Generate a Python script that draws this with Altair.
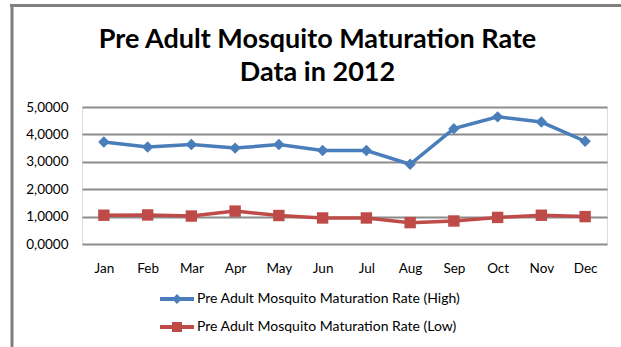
import altair as alt
import pandas as pd

months = ["Jan", "Feb", "Mar", "Apr", "May", "Jun", "Jul", "Aug", "Sep", "Oct", "Nov", "Dec"]
high = [3.72, 3.54, 3.63, 3.50, 3.63, 3.41, 3.41, 2.91, 4.21, 4.64, 4.45, 3.75]
low = [1.05, 1.06, 1.02, 1.20, 1.04, 0.95, 0.95, 0.78, 0.84, 0.97, 1.05, 1.00]
series_names = ["Pre Adult Mosquito Maturation Rate (High)", "Pre Adult Mosquito Maturation Rate (Low)"]
colors = ["#4A7EBB", "#BE4B48"]
title_lines = ["Pre Adult Mosquito Maturation Rate", "Data in 2012"]

rows = []
for m, h, l in zip(months, high, low):
    rows.append({"month": m, "value": h, "series": series_names[0], "legend": series_names[0]})
    rows.append({"month": m, "value": l, "series": series_names[1], "legend": series_names[1]})
df = pd.DataFrame(rows)

FONT = "Lato"
W, H = 525, 137
PL, PT = 82, 107

x = alt.X("month:N", sort=months, scale=alt.Scale(type="point", padding=0.5),
          axis=alt.Axis(title=None, labelAngle=0, domain=False, ticks=False, grid=False,
                        labelFont=FONT, labelFontSize=13.5, labelColor="#000000", labelPadding=17))
y = alt.Y("value:Q", scale=alt.Scale(domain=[0, 5], nice=False),
          axis=alt.Axis(title=None, values=[0, 1, 2, 3, 4, 5], domain=False, ticks=False,
                        gridColor="#8C8C8C", gridWidth=2, gridOpacity=1,
                        labelExpr="replace(format(datum.value, '.4f'), '.', ',')",
                        labelFont=FONT, labelFontSize=13.5, labelColor="#000000", labelPadding=14))
color_scale = alt.Scale(domain=series_names, range=colors)

base = alt.Chart(df)
lines = base.mark_line(strokeWidth=3.5).encode(
    x=x, y=y, color=alt.Color("series:N", scale=color_scale, legend=None), detail="series:N")
points = base.mark_point(filled=True, opacity=1, strokeWidth=0).encode(
    x=x, y=y,
    color=alt.Color("series:N", scale=color_scale, legend=None),
    shape=alt.Shape("series:N", scale=alt.Scale(domain=series_names, range=["diamond", "square"]), legend=None),
    size=alt.value(130))

hw, lt, mk = 1.214, 0.143, 0.357
jx = mk * (1 - lt / mk)
diamond_path = (f"M-{hw},-{lt}L-{jx:.3f},-{lt}L0,-{mk}L{jx:.3f},-{lt}L{hw},-{lt}L{hw},{lt}"
                f"L{jx:.3f},{lt}L0,{mk}L-{jx:.3f},{lt}L-{hw},{lt}Z")
square_path = (f"M-{hw},-{lt}L-{mk},-{lt}L-{mk},-{mk}L{mk},-{mk}L{mk},-{lt}L{hw},-{lt}L{hw},{lt}"
               f"L{mk},{lt}L{mk},{mk}L-{mk},{mk}L-{mk},{lt}L-{hw},{lt}Z")

leg = alt.Legend(title=None, orient="none", legendX=81, legendY=178,
                 symbolSize=784, symbolOpacity=1, symbolStrokeWidth=0,
                 labelFont=FONT, labelFontSize=14, labelColor="#000000",
                 labelOffset=6, rowPadding=7, padding=0, labelLimit=400)
legend_layer = base.mark_point(filled=True, opacity=0, strokeWidth=0).encode(
    x=x, y=y,
    color=alt.Color("legend:N", scale=color_scale, legend=leg),
    shape=alt.Shape("legend:N", scale=alt.Scale(domain=series_names, range=[diamond_path, square_path]),
                    legend=leg))

border_df = pd.DataFrame({"k": [0]})
top_border = alt.Chart(border_df).mark_rect(color="#7F7F7F").encode(
    x=alt.value(10 - PL), x2=alt.value(621 - PL), y=alt.value(4 - PT), y2=alt.value(7 - PT))
left_border = alt.Chart(border_df).mark_rect(color="#7F7F7F").encode(
    x=alt.value(10.5 - PL), x2=alt.value(13.5 - PL), y=alt.value(4 - PT), y2=alt.value(347 - PT))

chart = alt.layer(top_border, left_border, lines, points, legend_layer).resolve_scale(
    shape="independent", color="independent"
).properties(
    width=W, height=H,
    autosize=alt.AutoSizeParams(type="none"),
    padding={"left": PL, "top": PT, "right": 621 - PL - W, "bottom": 347 - PT - H},
    title=alt.TitleParams(text=title_lines, font=FONT, fontSize=27, fontWeight="bold",
                          color="#000000", anchor="middle", dx=-27, offset=-83, lineHeight=33),
).configure_view(stroke="transparent", strokeWidth=0
).configure_axis(domain=False, ticks=False
).configure(background="#FFFFFF")

chart.save("out.html", embed_options={"renderer": "svg", "actions": False})
